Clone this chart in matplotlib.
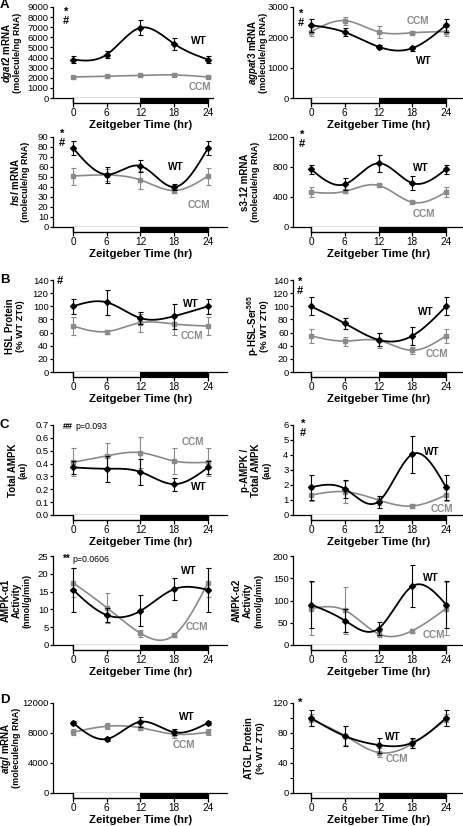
import numpy as np
import matplotlib
matplotlib.use("Agg")
import matplotlib.pyplot as plt
from matplotlib.patches import Rectangle
from matplotlib.transforms import blended_transform_factory
from matplotlib.ticker import FormatStrFormatter, MultipleLocator

plt.rcParams['font.family'] = ['Liberation Sans', 'DejaVu Sans']
plt.rcParams['mathtext.fontset'] = 'custom'
plt.rcParams['mathtext.rm'] = 'Liberation Sans:bold'
plt.rcParams['mathtext.it'] = 'Liberation Sans:italic:bold'
plt.rcParams['mathtext.bf'] = 'Liberation Sans:bold'

# ---------------- data ----------------
zt = [0, 6, 12, 18, 24]
xtick_labels = ["0", "6", "12", "18", "24"]

dgat2_wt = [3800, 4300, 6950, 5350, 3800]
dgat2_wt_err = [350, 300, 750, 600, 350]
dgat2_ccm = [2080, 2150, 2250, 2280, 2080]
dgat2_ccm_err = [110, 80, 110, 150, 110]

agpat3_wt = [2400, 2170, 1690, 1640, 2400]
agpat3_wt_err = [220, 140, 60, 80, 220]
agpat3_ccm = [2190, 2550, 2180, 2150, 2190]
agpat3_ccm_err = [160, 130, 190, 50, 160]

hsl_wt = [79, 52.5, 61, 40, 79]
hsl_wt_err = [7, 8, 6, 3, 7]
hsl_ccm = [51, 52, 47, 36.5, 51]
hsl_ccm_err = [8.5, 6, 9, 2, 8.5]

s312_wt = [770, 570, 850, 585, 770]
s312_wt_err = [60, 78, 115, 90, 60]
s312_ccm = [465, 475, 555, 330, 465]
s312_ccm_err = [65, 20, 25, 15, 65]

hslp_wt = [100, 106, 82, 85, 100]
hslp_wt_err = [11, 19, 9, 19, 11]
hslp_ccm = [70, 61.5, 75, 73, 70]
hslp_ccm_err = [13, 3, 14, 16, 13]

phsl_wt = [100, 74, 49, 55, 100]
phsl_wt_err = [14, 8, 10, 14, 14]
phsl_ccm = [55, 47, 48, 33, 55]
phsl_ccm_err = [11, 7, 12, 5, 11]

tampk_wt = [0.37, 0.36, 0.335, 0.24, 0.37]
tampk_wt_err = [0.05, 0.1, 0.1, 0.05, 0.05]
tampk_ccm = [0.41, 0.46, 0.485, 0.42, 0.41]
tampk_ccm_err = [0.11, 0.1, 0.12, 0.1, 0.11]

pampk_wt = [1.85, 1.75, 0.9, 4.05, 1.85]
pampk_wt_err = [0.85, 0.6, 0.4, 1.25, 0.85]
pampk_ccm = [1.33, 1.55, 1.0, 0.6, 1.33]
pampk_ccm_err = [0.4, 0.75, 0.3, 0.15, 0.4]

a1_wt = [15.5, 8.4, 9.6, 15.7, 15.5]
a1_wt_err = [6.2, 2.0, 4.4, 3.0, 6.2]
a1_ccm = [17.5, 10.5, 3.3, 2.8, 17.5]
a1_ccm_err = [4.0, 4.2, 1.0, 0.6, 4.0]

a2_wt = [91, 55, 37, 132, 91]
a2_wt_err = [52, 25, 15, 47, 52]
a2_ccm = [82, 78, 25, 32, 82]
a2_ccm_err = [60, 53, 6, 4, 60]

atgl_wt = [9350, 7200, 9500, 8100, 9350]
atgl_wt_err = [300, 300, 650, 400, 300]
atgl_ccm = [8100, 8900, 8700, 7850, 8100]
atgl_ccm_err = [400, 400, 300, 450, 400]

atglp_wt = [100, 76, 64, 67, 100]
atglp_wt_err = [11, 13, 10, 7, 11]
atglp_ccm = [98, 76.5, 54, 65.5, 98]
atglp_ccm_err = [8, 13, 6, 6, 8]

# ---------------- helpers ----------------
W, H = 464, 826
DPI = 100
fig = plt.figure(figsize=(W / DPI, H / DPI), dpi=DPI)
GRAY = '#8a8a8a'
PX_PER_HR = 5.625


def natural_spline(x, y, n=240):
    x = np.asarray(x, float)
    y = np.asarray(y, float)
    m = len(x)
    h = np.diff(x)
    A = np.zeros((m, m))
    b = np.zeros(m)
    A[0, 0] = A[-1, -1] = 1.0
    for i in range(1, m - 1):
        A[i, i - 1] = h[i - 1]
        A[i, i] = 2 * (h[i - 1] + h[i])
        A[i, i + 1] = h[i]
        b[i] = 3 * ((y[i + 1] - y[i]) / h[i] - (y[i] - y[i - 1]) / h[i - 1])
    c = np.linalg.solve(A, b)
    bc = (y[1:] - y[:-1]) / h - h * (2 * c[:-1] + c[1:]) / 3
    dc = (c[1:] - c[:-1]) / (3 * h)
    xs = np.linspace(x[0], x[-1], n)
    idx = np.clip(np.searchsorted(x, xs, side='right') - 1, 0, m - 2)
    dx = xs - x[idx]
    ys = y[idx] + bc[idx] * dx + c[idx] * dx ** 2 + dc[idx] * dx ** 3
    return xs, ys


rows_px = [(7, 98), (137, 227), (280, 372), (425, 515), (556, 645), (703, 793)]
col_px = {0: (53, 73, 227), 1: (293, 311, 464)}  # spine x, zero x, right end

L1 = 7.0   # first label line size
L2 = 6.4   # unit line size

panels = [
    dict(row=0, col=0, wt=dgat2_wt, wte=dgat2_wt_err, ccm=dgat2_ccm, ccme=dgat2_ccm_err,
         yticks=np.arange(0, 9001, 1000), right=213,
         ylab=[(r"$\mathit{dgat2}$ mRNA", L1, 7.0), ("(molecule/ng RNA)", L2, 17.5)],
         wtl=(22.4, 5600), ccml=(22.6, 1090)),
    dict(row=0, col=1, wt=agpat3_wt, wte=agpat3_wt_err, ccm=agpat3_ccm, ccme=agpat3_ccm_err,
         yticks=np.arange(0, 3001, 1000),
         ylab=[(r"$\mathit{agpat3}$ mRNA", L1, 253.5), ("(molecule/ng RNA)", L2, 263.5)],
         wtl=(20.0, 1230), ccml=(19.0, 2540)),
    dict(row=1, col=0, wt=hsl_wt, wte=hsl_wt_err, ccm=hsl_ccm, ccme=hsl_ccm_err,
         yticks=np.arange(0, 91, 10),
         ylab=[(r"$\mathit{hsl}$ mRNA", L1, 15.5), ("(molecule/ng RNA)", L2, 25.5)],
         wtl=(18.3, 60), ccml=(22.3, 22)),
    dict(row=1, col=1, wt=s312_wt, wte=s312_wt_err, ccm=s312_ccm, ccme=s312_ccm_err,
         yticks=np.arange(0, 1201, 400),
         ylab=[("s3-12 mRNA", L1, 245), ("(molecule/ng RNA)", L2, 255.5)],
         wtl=(19.6, 790), ccml=(20.0, 178)),
    dict(row=2, col=0, wt=hslp_wt, wte=hslp_wt_err, ccm=hslp_ccm, ccme=hslp_ccm_err,
         yticks=np.arange(0, 141, 20),
         ylab=[("HSL Protein", L1, 10.5), ("(% WT ZT0)", L2 + 0.4, 21)],
         wtl=(20.9, 103), ccml=(21.1, 55)),
    dict(row=2, col=1, wt=phsl_wt, wte=phsl_wt_err, ccm=phsl_ccm, ccme=phsl_ccm_err,
         yticks=np.arange(0, 141, 20),
         ylab=[(r"p-HSL-Ser$^{565}$", L1, 253), ("(% WT ZT0)", L2 + 0.4, 264.5)],
         wtl=(20.4, 92), ccml=(22.3, 28)),
    dict(row=3, col=0, wt=tampk_wt, wte=tampk_wt_err, ccm=tampk_ccm, ccme=tampk_ccm_err,
         yticks=np.round(np.arange(0, 0.71, 0.1), 1), fmt='%.1f',
         ylab=[("Total AMPK", L1, 13), ("(au)", L2 + 0.4, 23.5)],
         wtl=(22.3, 0.22), ccml=(21.4, 0.565)),
    dict(row=3, col=1, wt=pampk_wt, wte=pampk_wt_err, ccm=pampk_ccm, ccme=pampk_ccm_err,
         yticks=np.arange(0, 7, 1),
         ylab=[("p-AMPK /", L1, 245.5), ("Total AMPK", L1, 256), ("(au)", L2 + 0.4, 266.5)],
         wtl=(21.5, 4.18), ccml=(23.3, 0.42)),
    dict(row=4, col=0, wt=a1_wt, wte=a1_wt_err, ccm=a1_ccm, ccme=a1_ccm_err,
         yticks=np.arange(0, 26, 5),
         ylab=[("AMPK-α1", L1, 5.5), ("Activity", L1, 16.5), ("(nmol/g/min)", L2, 27)],
         wtl=(20.5, 20.9), ccml=(22.0, 5.0)),
    dict(row=4, col=1, wt=a2_wt, wte=a2_wt_err, ccm=a2_ccm, ccme=a2_ccm_err,
         yticks=np.arange(0, 201, 50),
         ylab=[("AMPK-α2", L1, 237), ("Activity", L1, 248), ("(nmol/g/min)", L2, 259)],
         wtl=(21.3, 150), ccml=(21.8, 22.5)),
    dict(row=5, col=0, wt=atgl_wt, wte=atgl_wt_err, ccm=atgl_ccm, ccme=atgl_ccm_err,
         yticks=np.arange(0, 12001, 4000),
         ylab=[(r"$\mathit{atgl}$ mRNA", L1, 6.5), ("(molecule/ng RNA)", L2, 17)],
         wtl=(20.3, 10100), ccml=(19.7, 6400)),
    dict(row=5, col=1, wt=atglp_wt, wte=atglp_wt_err, ccm=atglp_ccm, ccme=atglp_ccm_err,
         yticks=np.arange(0, 121, 40), minor=20,
         ylab=[("ATGL Protein", L1, 249.5), ("(% WT ZT0)", L2 + 0.4, 260.5)],
         wtl=(14.6, 74), ccml=(15.2, 45)),
]

for p in panels:
    ytop, ybot = rows_px[p['row']]
    xs0, xz, xr = col_px[p['col']]
    xr = p.get('right', xr)
    ax_h = ybot - ytop
    ax = fig.add_axes([xs0 / W, 1 - ybot / H, (xr - xs0) / W, ax_h / H])
    ax.set_xlim(-(xz - xs0) / PX_PER_HR, (xr - xz) / PX_PER_HR)
    ymax = p['yticks'][-1]
    ax.set_ylim(0, ymax)
    ax.patch.set_alpha(0)
    for s in ('top', 'right'):
        ax.spines[s].set_visible(False)
    for s in ('left', 'bottom'):
        ax.spines[s].set_linewidth(0.9)
    ax.set_xticks(zt)
    ax.set_xticklabels(xtick_labels)
    ax.set_yticks(p['yticks'])
    if 'fmt' in p:
        ax.yaxis.set_major_formatter(FormatStrFormatter(p['fmt']))
    if 'minor' in p:
        ax.yaxis.set_minor_locator(MultipleLocator(p['minor']))
        ax.tick_params(axis='y', which='minor', length=2.2, width=0.8)
    ax.tick_params(axis='x', length=6.3, width=0.9, pad=0.8, labelsize=7.2, direction='out')
    ax.tick_params(axis='y', length=2.4, width=0.9, pad=0.8, labelsize=6.8, direction='out')

    # light/dark bar (white segment outlined with explicit lines)
    bh = 4.8 / ax_h
    tr = blended_transform_factory(ax.transData, ax.transAxes)
    ax.add_patch(Rectangle((0, -bh), 12, bh, facecolor='white', edgecolor='none',
                           transform=tr, clip_on=False, zorder=6))
    ax.add_patch(Rectangle((12, -bh), 12, bh, facecolor='black', edgecolor='black', lw=0.8,
                           transform=tr, clip_on=False, zorder=6))
    ax.plot([0, 0, 12], [0, -bh, -bh], transform=tr, color='black', lw=1.0,
            clip_on=False, zorder=7, solid_capstyle='projecting')

    # CCM series
    sx, sy = natural_spline(zt, p['ccm'])
    ax.plot(sx, sy, color=GRAY, lw=1.2, zorder=3, clip_on=False)
    ax.errorbar(zt, p['ccm'], yerr=p['ccme'], fmt='s', color=GRAY, ms=3.2, elinewidth=0.8,
                capsize=1.8, capthick=0.8, zorder=3, clip_on=False)
    # WT series
    sx, sy = natural_spline(zt, p['wt'])
    ax.plot(sx, sy, color='black', lw=1.3, zorder=4, clip_on=False)
    ax.errorbar(zt, p['wt'], yerr=p['wte'], fmt='D', color='black', ms=3.0, elinewidth=0.8,
                capsize=1.8, capthick=0.8, zorder=4, clip_on=False)

    ax.text(p['wtl'][0], p['wtl'][1], 'WT', ha='center', va='center', fontsize=7.2,
            fontweight='bold', color='black')
    ax.text(p['ccml'][0], p['ccml'][1], 'CCM', ha='center', va='center', fontsize=7.2,
            fontweight='bold', color=GRAY)

    ax.annotate('Zeitgeber Time (hr)', xy=(12, 0), xycoords=('data', 'axes fraction'),
                xytext=(0, -27 * 72 / DPI), textcoords='offset points', ha='center',
                va='center', fontsize=8.2, fontweight='bold')

    yc = (ytop + ybot) / 2
    for txt, fs, xpx in p['ylab']:
        fig.text(xpx / W, 1 - yc / H, txt, rotation=90, ha='center', va='center',
                 fontsize=fs, fontweight='bold')


def ftext(x, y, s, **kw):
    fig.text(x / W, 1 - y / H, s, **kw)


# significance marks
sig = dict(fontsize=8, fontweight='bold', ha='center', va='center')
for (x, y1, y2) in [(66, 12, 21), (301, 14, 23), (62, 134, 143), (302, 135, 144),
                    (300, 282, 291), (303, 424, 433)]:
    ftext(x, y1, '*', **sig)
    ftext(x, y2, '#', **sig)
ftext(60, 281, '#', **sig)
ftext(300, 703, '*', **sig)
ftext(63, 426, '##', fontsize=6.5, fontweight='bold', ha='left', va='center')
ftext(75, 426, 'p=0.093', fontsize=6.3, ha='left', va='center')
ftext(63, 559, '**', fontsize=7, fontweight='bold', ha='left', va='center')
ftext(72, 559, 'p=0.0606', fontsize=6.3, ha='left', va='center')

# panel letters
for letter, y in [('A', 5), ('B', 280), ('C', 425), ('D', 700)]:
    ftext(4.5, y, letter, fontsize=9.5, fontweight='bold', ha='center', va='center')

fig.savefig('out.png', dpi=DPI)
